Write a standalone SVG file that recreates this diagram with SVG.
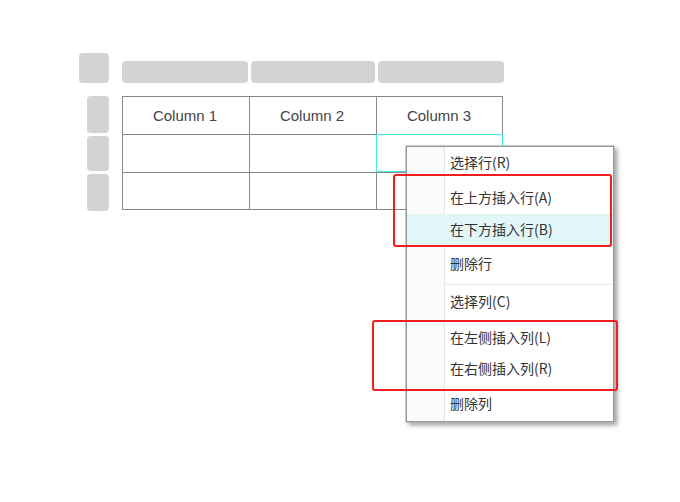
<svg xmlns="http://www.w3.org/2000/svg" width="680" height="502" viewBox="0 0 680 502">
<style>
.h{fill:#d3d3d3}
.t{font-family:"Liberation Sans",Arial,sans-serif;font-size:15px;fill:#444;text-anchor:middle}
.m{font-family:"Noto Sans CJK SC","Liberation Sans",sans-serif;font-size:14px;fill:#333}
.g{stroke:#888;stroke-width:1;fill:none}
.r{fill:none;stroke:#f01e1e;stroke-width:2}
</style>
<defs><filter id="sh" x="-10%" y="-10%" width="130%" height="130%"><feDropShadow dx="3" dy="3" stdDeviation="2" flood-color="#000" flood-opacity="0.35"/></filter></defs>
<rect width="680" height="502" fill="#fff"/>
<g id="handles">
<rect class="h" x="79" y="53" width="30" height="30" rx="4"/>
<rect class="h" x="122" y="61" width="126" height="22" rx="4"/>
<rect class="h" x="251" y="61" width="124" height="22" rx="4"/>
<rect class="h" x="378" y="61" width="126" height="22" rx="4"/>
<rect class="h" x="87" y="96" width="22" height="37" rx="4"/>
<rect class="h" x="87" y="136" width="22" height="35" rx="4"/>
<rect class="h" x="87" y="174" width="22" height="37" rx="4"/>
</g>
<g id="table">
<rect class="g" x="122.5" y="96.5" width="380" height="113"/>
<path class="g" d="M122 134.5H502M122 172.5H502M249.5 96V209M376.5 96V209"/>
<rect x="376.5" y="134.5" width="126" height="37" fill="none" stroke="#3ee8e8"/>
<text class="t" x="185" y="121">Column 1</text>
<text class="t" x="312" y="121">Column 2</text>
<text class="t" x="439" y="121">Column 3</text>
</g>
<g id="menu">
<rect x="406" y="146" width="208" height="276" fill="#fff" stroke="#999" filter="url(#sh)"/>
<rect x="406" y="146" width="38" height="276" fill="#fafafa"/>
<rect x="406.5" y="146.5" width="207" height="275" fill="none" stroke="#999"/>
<line x1="444.5" y1="147" x2="444.5" y2="421" stroke="#e6e6e6"/>
<rect x="407" y="214" width="206" height="32" fill="#e1f7f7"/>
<line x1="445" y1="284.5" x2="612" y2="284.5" stroke="#e6e6e6"/>
<text class="m" x="450" y="168">选择行(R)</text>
<text class="m" x="450" y="203">在上方插入行(A)</text>
<text class="m" x="450" y="235">在下方插入行(B)</text>
<text class="m" x="450" y="269">删除行</text>
<text class="m" x="450" y="307">选择列(C)</text>
<text class="m" x="450" y="343">在左侧插入列(L)</text>
<text class="m" x="450" y="374">在右侧插入列(R)</text>
<text class="m" x="450" y="409">删除列</text>
</g>
<g id="highlights">
<rect class="r" x="394" y="175" width="217" height="71" rx="2"/>
<rect class="r" x="373" y="321" width="244" height="69" rx="2"/>
</g>
</svg>
